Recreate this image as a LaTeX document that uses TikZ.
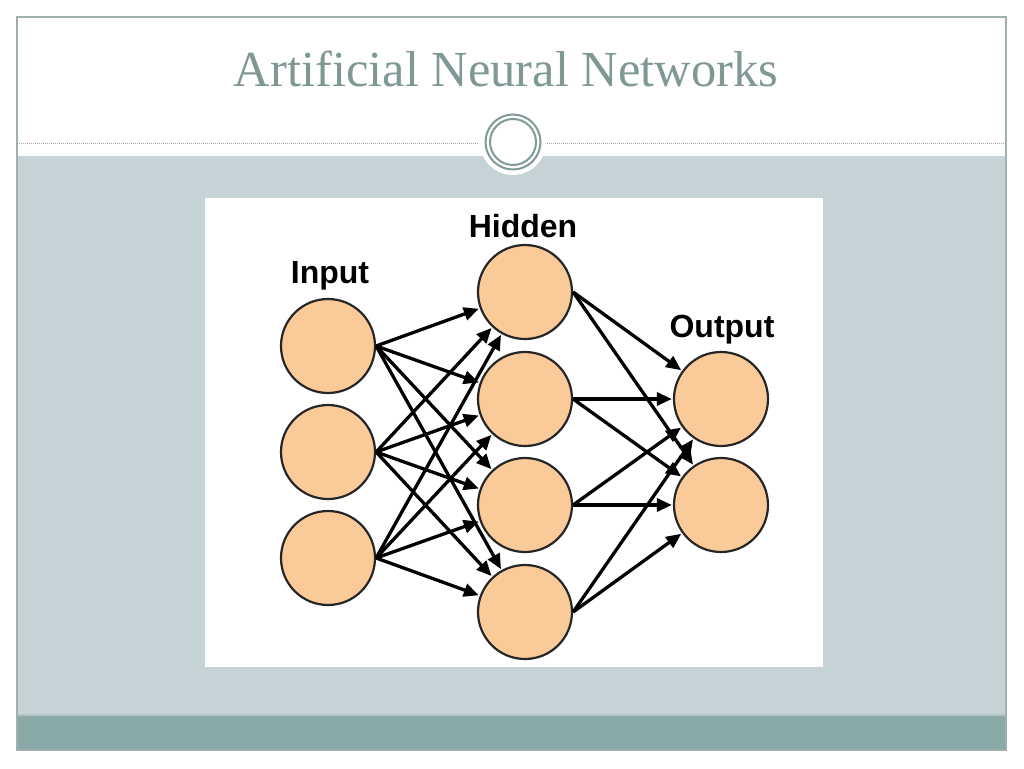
\documentclass[tikz,border=0pt]{standalone}
\usepackage{fontspec}
\setmainfont{Liberation Serif}
\newfontfamily\labelfont{Liberation Sans}
\usetikzlibrary{arrows.meta}
\definecolor{frameline}{HTML}{9FB0AF}
\definecolor{slidegrey}{HTML}{C5D2D6}
\definecolor{bandteal}{HTML}{8AAAAA}
\definecolor{bandline}{HTML}{B2C3C4}
\definecolor{titlecol}{HTML}{7F9896}
\definecolor{ringcol}{HTML}{809A98}
\definecolor{dotcol}{HTML}{A8A8A8}
\definecolor{peach}{HTML}{FBCA99}
\tikzset{
  neuron/.style={circle, draw=black!85, line width=2.2pt, fill=peach, minimum size=94pt, inner sep=0pt},
  layerlabel/.style={font=\labelfont\bfseries\fontsize{32}{32}\selectfont, anchor=base, inner sep=0pt},
  link/.style={line width=3.3pt, -{Triangle[length=15pt,width=13pt]}, shorten >=1pt},
  ring/.style={draw=ringcol, line width=2pt}
}
\begin{document}
\begin{tikzpicture}[x=1pt,y=-1pt]
\useasboundingbox (0,0) rectangle (1024,768);
\fill[white] (0,0) rectangle (1024,768);
% slide areas
\fill[slidegrey] (17,156) rectangle (1006,715);
\fill[bandteal] (17,715) rectangle (1006,750);
\draw[bandline, line width=1.2pt] (17,715) -- (1006,715);
\draw[frameline, line width=1.2pt] (17,17) rectangle (1006,750);
% dotted separator
\draw[dotcol, line width=1pt, dash pattern=on 1pt off 1pt] (17,143) -- (478,143);
\draw[dotcol, line width=1pt, dash pattern=on 1pt off 1pt] (547,143) -- (1006,143);
% ornament
\fill[white] (513,142) circle[radius=33];
\draw[ring] (513,142) circle[radius=27.5];
\draw[ring] (513,142) circle[radius=23];
% title
\node[anchor=base, inner sep=0pt, text=titlecol, font=\fontsize{50.5}{50.5}\selectfont] (title) at (506,86) {Artificial Neural Networks};
% picture panel
\fill[white] (205,198) rectangle (823,667);
% labels
\node[layerlabel] (linput) at (330,283) {Input};
\node[layerlabel] (lhidden) at (523,237) {Hidden};
\node[layerlabel] (loutput) at (722,337) {Output};
% neurons
\node[neuron] (i1) at (328,346) {};
\node[neuron] (i2) at (328,452) {};
\node[neuron] (i3) at (328,558) {};
\node[neuron] (h1) at (525,292) {};
\node[neuron] (h2) at (525,399) {};
\node[neuron] (h3) at (525,505) {};
\node[neuron] (h4) at (525,612) {};
\node[neuron] (o1) at (721,399) {};
\node[neuron] (o2) at (721,505) {};
% connections
\foreach \s in {i1,i2,i3}{
  \foreach \t in {h1,h2,h3,h4}{
    \draw[link] (\s.east) -- (\t);
  }
}
\foreach \s in {h1,h2,h3,h4}{
  \foreach \t in {o1,o2}{
    \draw[link] (\s.east) -- (\t);
  }
}
\end{tikzpicture}
\end{document}
